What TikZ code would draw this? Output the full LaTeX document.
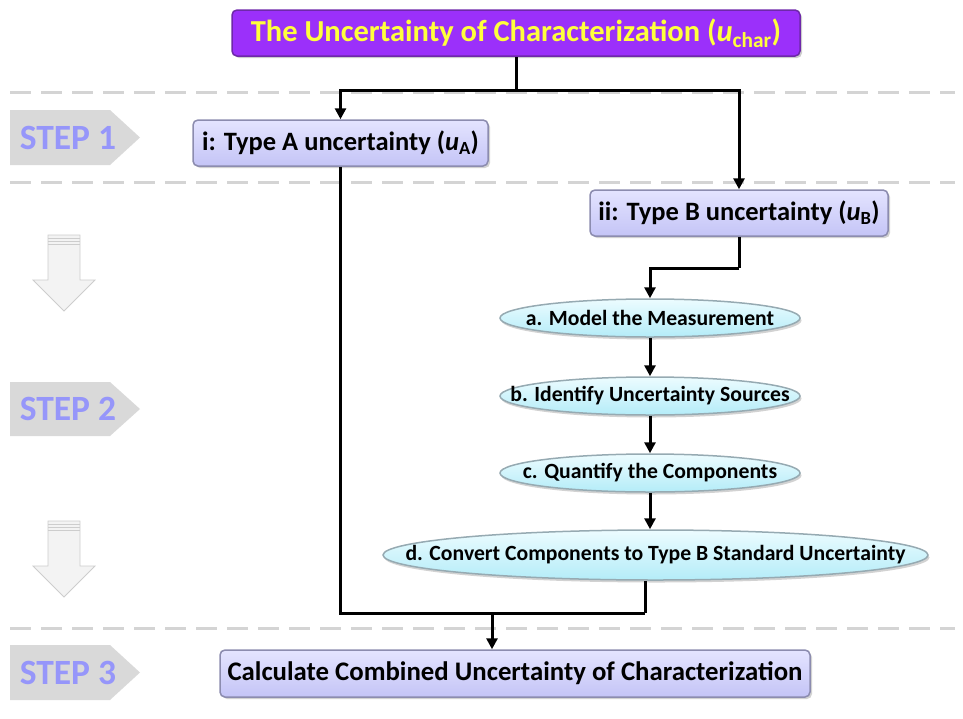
\documentclass[tikz,border=0pt]{standalone}
\usepackage{fontspec}
\setmainfont{Carlito}
\usetikzlibrary{shapes.geometric,arrows.meta,shadows}
\definecolor{tpurple}{RGB}{155,48,250}
\definecolor{tpurpleline}{RGB}{110,40,170}
\definecolor{tyellow}{RGB}{255,255,60}
\definecolor{lavtop}{RGB}{228,228,255}
\definecolor{lavbot}{RGB}{196,196,246}
\definecolor{lavline}{RGB}{140,140,175}
\definecolor{cyantop}{RGB}{236,252,255}
\definecolor{cyanbot}{RGB}{180,236,248}
\definecolor{cyanline}{RGB}{150,170,178}
\definecolor{stepgray}{RGB}{217,217,217}
\definecolor{steptext}{RGB}{150,150,250}
\definecolor{dashgray}{RGB}{212,212,212}
\definecolor{arrowfill}{RGB}{243,243,243}
\definecolor{arrowline}{RGB}{205,205,205}
\begin{document}
\begin{tikzpicture}[x=1pt,y=-1pt,
  titlebox/.style={rounded corners=5pt, fill=tpurple, draw=tpurpleline, line width=1.5pt,
    minimum width=568pt, minimum height=46pt, inner sep=0pt, text=tyellow,
    font=\bfseries\fontsize{30.5}{34}\selectfont,
    drop shadow={shadow xshift=2pt, shadow yshift=-2pt, fill=black!40}},
  lavbox/.style={rounded corners=5pt, top color=lavtop, bottom color=lavbot, draw=lavline,
    line width=1.5pt, minimum height=46pt, inner sep=0pt,
    font=\bfseries\fontsize{26.5}{30}\selectfont,
    drop shadow={shadow xshift=2pt, shadow yshift=-2pt, fill=black!35}},
  ellbox/.style={ellipse, top color=cyantop, bottom color=cyanbot, draw=cyanline,
    line width=1.5pt, inner sep=0pt, font=\bfseries\fontsize{21.7}{24}\selectfont,
    drop shadow={shadow xshift=1.5pt, shadow yshift=-2.5pt, fill=black!35}},
  steptag/.style={fill=stepgray, draw=none},
  steplabel/.style={text=steptext, font=\bfseries\fontsize{35.5}{40}\selectfont, inner sep=0pt},
  dashline/.style={draw=dashgray, line width=3pt, dash pattern=on 21pt off 10pt},
  conn/.style={draw=black, line width=3pt},
  arr/.style={conn, -{Triangle[length=11pt,width=11pt]}},
  downarrow/.style={fill=arrowfill, draw=arrowline, line width=0.8pt}
]
\useasboundingbox (0,0) rectangle (963,718);

% dashed separators
\draw[dashline] (10,92) -- (955,92);
\draw[dashline] (10,182) -- (955,182);
\draw[dashline] (10,628) -- (955,628);

% step tags
\fill[steptag] (10,110) -- (110,110) -- (140,137.5) -- (110,165) -- (10,165) -- cycle;
\node[steplabel] (s1) at (68,137.5) {STEP 1};
\fill[steptag] (10,382) -- (110,382) -- (140,409) -- (110,436) -- (10,436) -- cycle;
\node[steplabel] (s2) at (68,409) {STEP 2};
\fill[steptag] (10,645) -- (110,645) -- (140,672.5) -- (110,700) -- (10,700) -- cycle;
\node[steplabel] (s3) at (68,672.5) {STEP 3};

% down arrows
\foreach \t in {235,521}{
  \draw[downarrow] (48,\t) -- (80,\t) -- (80,\t+45) -- (95,\t+45) -- (64,\t+76)
     -- (33,\t+45) -- (48,\t+45) -- cycle;
  \foreach \d in {3,6,9}{\draw[arrowline, line width=0.6pt] (48,\t+\d) -- (80,\t+\d);}
}

% nodes
\node[titlebox] (title) at (516,33) {The Uncertainty of Characterization (\textit{u}\textsubscript{char})};
\node[lavbox, minimum width=295pt] (typeA) at (340.5,143) {i: Type A uncertainty (\textit{u}\textsubscript{A})};
\node[lavbox, minimum width=298pt] (typeB) at (739,213) {ii: Type B uncertainty (\textit{u}\textsubscript{B})};
\node[ellbox, minimum width=300pt, minimum height=38pt] (ea) at (650,318) {\makebox[0pt]{a. Model the Measurement}};
\node[ellbox, minimum width=300pt, minimum height=38pt] (eb) at (650,396) {\makebox[0pt]{b. Identify Uncertainty Sources}};
\node[ellbox, minimum width=300pt, minimum height=38pt] (ec) at (650,473) {\makebox[0pt]{c. Quantify the Components}};
\node[ellbox, minimum width=545pt, minimum height=50pt] (ed) at (655.5,555) {\makebox[0pt]{d. Convert Components to Type B Standard Uncertainty}};
\node[lavbox, minimum width=590pt, minimum height=47pt, font=\bfseries\fontsize{26.8}{30}\selectfont] (calc) at (515,673.5) {Calculate Combined Uncertainty of Characterization};

% connectors
\coordinate (split) at (516,90);
\coordinate (bturn) at (739,268);
\coordinate (merge) at (645,613);
\coordinate (mid) at (492,613);
\draw[conn] (title.south) -- (split);
\draw[arr] (split) -| (typeA.north);
\draw[arr] (split) -| (typeB.north);
\draw[conn] (typeB.south) -- (bturn);
\draw[arr] (bturn) -| (ea.north);
\draw[arr] (ea.south) -- (eb.north);
\draw[arr] (eb.south) -- (ec.north);
\draw[arr] (ec.south) -- (ec.south |- ed.north);
\draw[conn] (typeA.south) |- (merge);
\draw[conn] (ed.south -| merge) -- (merge);
\draw[arr] (mid) -- (mid |- calc.north);
\end{tikzpicture}
\end{document}
